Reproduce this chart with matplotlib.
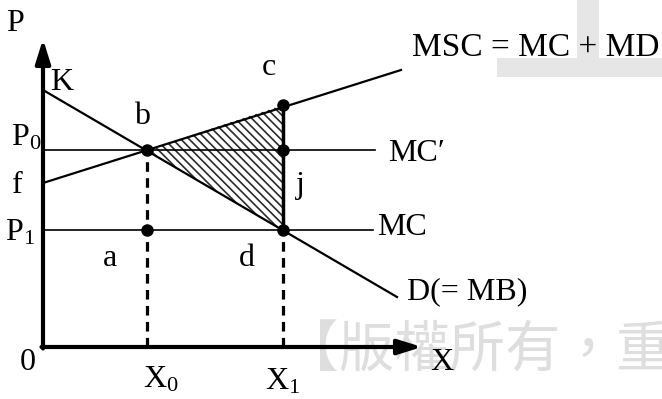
import matplotlib
matplotlib.use("Agg")
import matplotlib.pyplot as plt
from matplotlib.patches import Polygon, Rectangle

plt.rcParams['font.family'] = ['Liberation Serif', 'DejaVu Serif']
plt.rcParams['mathtext.fontset'] = 'custom'
plt.rcParams['mathtext.rm'] = 'Liberation Serif'
plt.rcParams['mathtext.it'] = 'Liberation Serif:italic'
plt.rcParams['hatch.linewidth'] = 1.2

# quantities / prices (arbitrary units)
X0, X1 = 10.4, 24.0
P0, P1 = 19.7, 11.7
K = 25.7          # demand intercept
f = 16.4          # MSC intercept
c_price = 24.2    # MSC at X1

# line end points
demand_x = [0.0, 35.4]
demand_y = [K, 5.0]
msc_x = [0.0, 35.8]
msc_y = [f, 27.7]
mc_prime_end = 33.2
mc_end = 33.0

# labelled dots
dots_x = [X0, X1, X1, X1, X0]
dots_y = [P0, c_price, P0, P1, P1]

fig = plt.figure(figsize=(6.62, 3.99), dpi=100)
ax = fig.add_axes([0, 0, 1, 1])
ax.set_xlim(-4.3, 61.9)
ax.set_ylim(-5.2, 34.7)
ax.axis('off')

# grey watermark pieces, kept behind everything
ax.add_patch(Rectangle((497 / 662, 1 - 77 / 399), 165 / 662, 19 / 399,
                       transform=fig.transFigure, color='#e6e6e6', lw=0, zorder=0))
ax.add_patch(Rectangle((577 / 662, 1 - 58 / 399), 22 / 662, 58 / 399,
                       transform=fig.transFigure, color='#e6e6e6', lw=0, zorder=0))
ax.text(283 / 662, 1 - 352 / 399, '【版權所有，重製必究】', fontsize=40,
        family=['Noto Sans CJK TC'], color='#dedede', va='center', ha='left',
        fontweight='light', transform=fig.transFigure, zorder=0.5)

# shaded welfare loss triangle b-c-d
tri = Polygon([[X0, P0], [X1, c_price], [X1, P1]], closed=True,
              facecolor='white', edgecolor='#2a2a2a', hatch='\\\\\\\\', lw=0, zorder=2)
ax.add_patch(tri)
ax.plot([X1, X1], [c_price, P1], color='black', lw=2.5, zorder=3)

# curves
ax.plot(demand_x, demand_y, color='black', lw=1.6, zorder=3)
ax.plot(msc_x, msc_y, color='black', lw=1.6, zorder=3)
ax.plot([0, mc_prime_end], [P0, P0], color='black', lw=1.2, zorder=3)
ax.plot([0, mc_end], [P1, P1], color='black', lw=1.2, zorder=3)

# dashed drop lines
ax.plot([X0, X0], [0, P0], color='black', lw=2.3, ls=(0, (3, 2)), zorder=3)
ax.plot([X1, X1], [0, P1], color='black', lw=2.3, ls=(0, (3, 2)), zorder=3)

ax.plot(dots_x, dots_y, 'o', color='black', ms=8, zorder=4)

# axes with arrows
ax.annotate('', xy=(0, 30.8), xytext=(0, -0.15),
            arrowprops=dict(arrowstyle='-|>,head_length=0.8,head_width=0.25',
                            color='black', lw=3, shrinkA=0, shrinkB=0, mutation_scale=18),
            zorder=5)
ax.annotate('', xy=(37.9, 0), xytext=(-0.15, 0),
            arrowprops=dict(arrowstyle='-|>,head_length=0.8,head_width=0.25',
                            color='black', lw=3, shrinkA=0, shrinkB=0, mutation_scale=18),
            zorder=5)

fs = 23
ax.text(-2.8, 32.4, 'P', fontsize=fs, ha='center', va='center')
ax.text(39.9, -1.5, 'X', fontsize=fs, ha='center', va='center')
ax.text(-1.5, -1.5, '0', fontsize=fs, ha='center', va='center')
ax.text(1.9, 26.5, 'K', fontsize=fs, ha='center', va='center')
ax.text(9.9, 23.0, 'b', fontsize=fs, ha='center', va='center')
ax.text(22.6, 28.0, 'c', fontsize=fs, ha='center', va='center')
ax.text(25.7, 16.2, 'j', fontsize=fs, ha='center', va='center')
ax.text(-2.6, 16.2, 'f', fontsize=fs, ha='center', va='center')
ax.text(6.7, 8.9, 'a', fontsize=fs, ha='center', va='center')
ax.text(20.4, 8.9, 'd', fontsize=fs, ha='center', va='center')
ax.text(-0.2, 20.9, r'$\mathrm{P}_0$', fontsize=fs, ha='right', va='center')
ax.text(-0.8, 11.4, r'$\mathrm{P}_1$', fontsize=fs, ha='right', va='center')
ax.text(10.0, -3.3, r'$\mathrm{X}_0$', fontsize=fs, ha='left', va='center')
ax.text(X1, -3.5, r'$\mathrm{X}_1$', fontsize=fs, ha='center', va='center')
ax.text(36.9, 29.9, 'MSC = MC + MD', fontsize=24, ha='left', va='center')
ax.text(34.5, 19.4, 'MC\u2032', fontsize=fs, ha='left', va='center')
ax.text(33.4, 12.0, 'MC', fontsize=fs, ha='left', va='center')
ax.text(36.4, 5.5, 'D(= MB)', fontsize=fs, ha='left', va='center')

fig.savefig('out.png', dpi=100)
